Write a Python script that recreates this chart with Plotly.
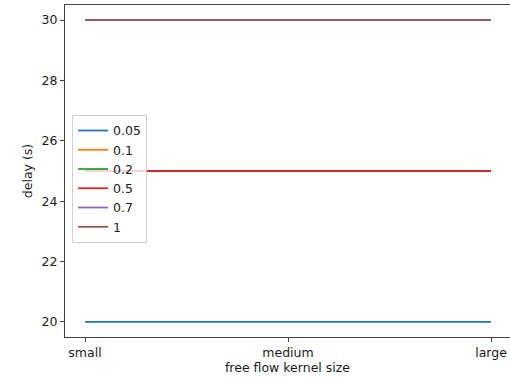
import plotly.graph_objects as go

categories = ["small", "medium", "large"]
series_names = ["0.05", "0.1", "0.2", "0.5", "0.7", "1"]
delay_005 = [20, 20, 20]
delay_01 = [25, 25, 25]
delay_02 = [25, 25, 25]
delay_05 = [25, 25, 25]
delay_07 = [30, 30, 30]
delay_1 = [30, 30, 30]
all_series = [delay_005, delay_01, delay_02, delay_05, delay_07, delay_1]
colors = ["#1f77b4", "#ff7f0e", "#2ca02c", "#d62728", "#9467bd", "#8c564b"]

fig = go.Figure()
for name, vals, c in zip(series_names, all_series, colors):
    fig.add_trace(go.Scatter(x=[0, 1, 2], y=vals, mode="lines", name=name,
                             line=dict(color=c, width=1.8)))

font = dict(family="DejaVu Sans", size=12.5, color="#1a1a1a")
fig.update_layout(
    width=510, height=380,
    margin=dict(l=65, r=0, t=5, b=43),
    paper_bgcolor="white", plot_bgcolor="white",
    font=font,
    showlegend=True,
    legend=dict(x=0.016, y=0.669, xanchor="left", yanchor="top",
                bgcolor="rgba(255,255,255,0.8)", bordercolor="#d0d0d0", borderwidth=1,
                font=font, itemwidth=30, tracegroupgap=0),
)
fig.update_xaxes(
    range=[-0.0985, 2.0936], tickmode="array", tickvals=[0, 1, 2], ticktext=categories,
    showgrid=False, zeroline=False, showline=True, linecolor="#444", linewidth=1,
    mirror=True, ticks="outside", ticklen=4, tickcolor="#444", tickwidth=1,
    title=dict(text="free flow kernel size", standoff=4, font=font), tickfont=font,
)
fig.update_yaxes(
    range=[19.5, 30.5], tickvals=[20, 22, 24, 26, 28, 30],
    showgrid=False, zeroline=False, showline=True, linecolor="#444", linewidth=1,
    mirror=False, ticks="outside", ticklen=4, tickcolor="#444", tickwidth=1,
    title=dict(text="delay (s)", standoff=6, font=font), tickfont=font,
)
fig.write_html("out.html")
